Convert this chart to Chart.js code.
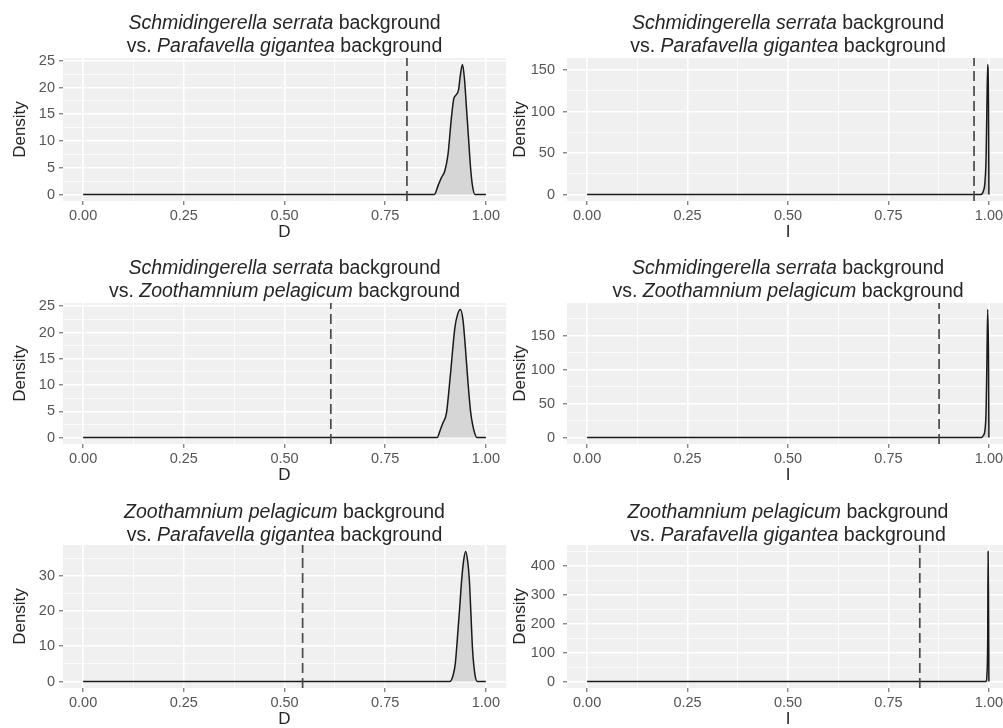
<!DOCTYPE html>
<html>
<head>
<meta charset="utf-8">
<script src="https://cdn.jsdelivr.net/npm/chart.js@4.4.3/dist/chart.umd.min.js"></script>
<style>
  html, body { margin: 0; padding: 0; background: #fff; overflow: hidden; }
  body { width: 1003px; height: 728px; position: relative; font-family: "Liberation Sans", Arial, sans-serif; }
  canvas { position: absolute; }
  .title { position: absolute; text-align: center; font-size: 19.5px; line-height: 23px; color: #262626; white-space: nowrap; }
</style>
</head>
<body>
<script>
// species pair for each panel (first = background, second = compared background)
const species = [
  ['Schmidingerella serrata', 'Parafavella gigantea'],
  ['Schmidingerella serrata', 'Parafavella gigantea'],
  ['Schmidingerella serrata', 'Zoothamnium pelagicum'],
  ['Schmidingerella serrata', 'Zoothamnium pelagicum'],
  ['Zoothamnium pelagicum', 'Parafavella gigantea'],
  ['Zoothamnium pelagicum', 'Parafavella gigantea']
];
const metric = ['D', 'I', 'D', 'I', 'D', 'I'];
const observed = [0.804, 0.963, 0.615, 0.876, 0.545, 0.828];

const xTicks = [0, 0.25, 0.5, 0.75, 1];
const yTicks = [
  [0, 5, 10, 15, 20, 25],
  [0, 50, 100, 150],
  [0, 5, 10, 15, 20, 25],
  [0, 50, 100, 150],
  [0, 10, 20, 30],
  [0, 100, 200, 300, 400]
];

// null distributions (density estimates)
const panel1X = [0, 0.872, 0.882, 0.890, 0.898, 0.906, 0.914, 0.920, 0.926, 0.932, 0.937, 0.942, 0.947, 0.952, 0.957, 0.962, 0.967, 0.973, 1];
const panel1Y = [0, 0, 1.8, 3.2, 4.4, 7.5, 14, 17.8, 18.6, 19.5, 22.5, 24.3, 21.5, 16, 10.5, 5, 1.5, 0, 0];
const panel2X = [0, 0.980, 0.986, 0.990, 0.993, 0.995, 0.997, 0.999, 1];
const panel2Y = [0, 0, 4, 14, 45, 105, 157, 110, 0];
const panel3X = [0, 0.879, 0.887, 0.894, 0.902, 0.912, 0.923, 0.930, 0.937, 0.943, 0.948, 0.956, 0.962, 0.967, 0.972, 0.978, 1];
const panel3Y = [0, 0, 1.5, 2.9, 4.6, 12, 20.9, 23.5, 24.4, 22.5, 18.3, 10.1, 5, 2.5, 0.9, 0, 0];
const panel4X = [0, 0.981, 0.986, 0.990, 0.993, 0.995, 0.997, 0.999, 1];
const panel4Y = [0, 0, 3, 10, 40, 110, 189, 120, 0];
const panel5X = [0, 0.911, 0.919, 0.924, 0.929, 0.935, 0.940, 0.945, 0.950, 0.955, 0.959, 0.963, 0.967, 0.973, 0.979, 1];
const panel5Y = [0, 0, 1.9, 5, 11.8, 21, 28.9, 34.5, 36.9, 34, 28.9, 19, 9, 1.9, 0, 0];
const panel6X = [0, 0.993, 0.995, 0.997, 0.998, 0.999, 1];
const panel6Y = [0, 0, 20, 150, 450, 300, 0];

const densityX = [panel1X, panel2X, panel3X, panel4X, panel5X, panel6X];
const densityY = [panel1Y, panel2Y, panel3Y, panel4Y, panel5Y, panel6Y];

// layout (pixels)
const rowTop = [58, 303, 545];
const rowBottom = [201, 444, 688];
const titleTop = [10.5, 255.5, 499.5];
const plotLeft = [63, 567];
const plotRight = [506, 1009];
const canvasLeft = [0, 505];
const yTitlePad = [12, 6.5];
const yTickPad = [4, 8];
const padTop = 20;
const xAxisH = 42;

const FONT = "'Liberation Sans', Arial, sans-serif";
Chart.defaults.font.family = FONT;

const panelBg = {
  id: 'panelBg',
  beforeDraw(chart) {
    const a = chart.chartArea, c = chart.ctx;
    c.save();
    c.fillStyle = '#f0f0f0';
    c.fillRect(a.left, a.top, a.right - a.left, a.bottom - a.top);
    c.restore();
  }
};

// major ticks plus ggplot-style minor breaks halfway between them
function withMinor(majors, min, max) {
  const step = majors[1] - majors[0];
  const out = [];
  majors.forEach(v => out.push(v));
  for (let v = majors[0] - step / 2; v <= majors[majors.length - 1] + step / 2 + 1e-9; v += step) {
    if (v >= min && v <= max) out.push(v);
  }
  return out.sort((a, b) => a - b);
}

function isMajor(list, v) {
  return list.some(m => Math.abs(m - v) < 1e-9);
}

function gridOpts(majors) {
  return {
    color: '#ffffff',
    lineWidth: ctx => (ctx.tick && isMajor(majors, ctx.tick.value)) ? 1.6 : 0.8,
    drawTicks: true,
    tickLength: 4,
    tickWidth: 1,
    tickColor: ctx => (ctx.tick && isMajor(majors, ctx.tick.value)) ? '#555' : 'rgba(0,0,0,0)'
  };
}

for (let i = 0; i < 6; i++) {
  const r = Math.floor(i / 2), c = i % 2;
  const peak = Math.max(...densityY[i]);
  const yMin = -0.05 * peak, yMax = 1.05 * peak;
  const top = rowTop[r] - padTop;

  const canvas = document.createElement('canvas');
  canvas.width = plotRight[c] + 1 - canvasLeft[c];
  canvas.height = rowBottom[r] - top + xAxisH;
  canvas.style.left = canvasLeft[c] + 'px';
  canvas.style.top = top + 'px';
  document.body.appendChild(canvas);

  const t = document.createElement('div');
  t.className = 'title';
  t.style.left = plotLeft[c] + 'px';
  t.style.width = (plotRight[c] - plotLeft[c]) + 'px';
  t.style.top = titleTop[r] + 'px';
  t.innerHTML = '<i>' + species[i][0] + '</i> background<br>vs. <i>' + species[i][1] + '</i> background';
  document.body.appendChild(t);

  const xAll = withMinor(xTicks, -0.05, 1.05);
  const yAll = withMinor(yTicks[i], yMin, yMax);

  new Chart(canvas, {
    type: 'line',
    data: {
      datasets: [
        {
          data: densityX[i].map((x, k) => ({ x: x, y: densityY[i][k] })),
          borderColor: '#1a1a1a',
          borderWidth: 1.5,
          backgroundColor: '#d6d6d6',
          fill: 'origin',
          pointRadius: 0,
          cubicInterpolationMode: 'monotone',
          order: 2
        },
        {
          data: [{ x: observed[i], y: yMin }, { x: observed[i], y: yMax }],
          borderColor: '#4a4a4a',
          borderWidth: 1.7,
          borderDash: [10, 5],
          pointRadius: 0,
          fill: false,
          order: 1
        }
      ]
    },
    options: {
      responsive: false,
      animation: false,
      events: [],
      layout: { padding: { top: padTop, right: 1, left: 0, bottom: 0 } },
      plugins: { legend: { display: false }, tooltip: { enabled: false } },
      scales: {
        x: {
          type: 'linear',
          min: -0.05,
          max: 1.05,
          afterBuildTicks: s => { s.ticks = xAll.map(v => ({ value: v })); },
          afterFit: s => { s.height = xAxisH; },
          grid: gridOpts(xTicks),
          border: { display: false },
          ticks: {
            autoSkip: false,
            maxRotation: 0,
            padding: 2,
            color: '#555',
            font: { size: 14.5 },
            callback: v => isMajor(xTicks, v) ? v.toFixed(2) : ''
          },
          title: {
            display: true,
            text: metric[i],
            color: '#262626',
            font: { size: 17, lineHeight: 1 },
            padding: { top: 0, bottom: 2.5 }
          }
        },
        y: {
          type: 'linear',
          min: yMin,
          max: yMax,
          afterBuildTicks: s => { s.ticks = yAll.map(v => ({ value: v })); },
          afterFit: s => { s.width = plotLeft[c] - canvasLeft[c]; },
          grid: gridOpts(yTicks[i]),
          border: { display: false },
          ticks: {
            autoSkip: false,
            padding: yTickPad[c],
            color: '#555',
            font: { size: 14.5 },
            callback: v => isMajor(yTicks[i], v) ? String(Math.round(v)) : ''
          },
          title: {
            display: true,
            text: 'Density',
            color: '#262626',
            font: { size: 17, lineHeight: 1 },
            padding: { top: yTitlePad[c], bottom: 0 }
          }
        }
      }
    },
    plugins: [panelBg]
  });
}
</script>
</body>
</html>
